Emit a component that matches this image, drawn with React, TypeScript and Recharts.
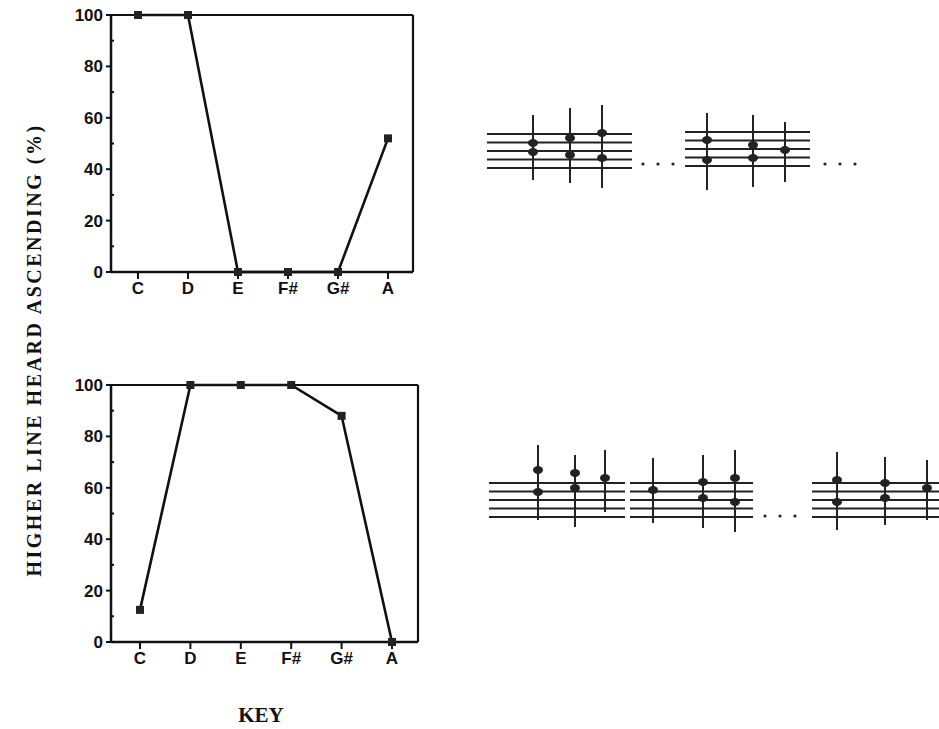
import { LineChart, Line, XAxis, YAxis } from 'recharts'

const keys = ['C', 'D', 'E', 'F#', 'G#', 'A']
const upperValues = [100, 100, 0, 0, 0, 52]
const lowerValues = [12.5, 100, 100, 100, 88, 0]
const yTicks = [0, 10, 20, 30, 40, 50, 60, 70, 80, 90, 100]

const upperData = keys.map((key, i) => ({ key, value: upperValues[i] }))
const lowerData = keys.map((key, i) => ({ key, value: lowerValues[i] }))

const tickFont = { fontFamily: '"Liberation Sans", Arial, sans-serif', fontWeight: 700, fontSize: 17, fill: '#111' }

function YTick(props: any) {
  const { x, y, payload } = props
  const v = payload.value
  const major = v % 20 === 0
  return (
    <g>
      {major ? (
        <>
          <line x1={x + 3} x2={x + 8} y1={y} y2={y} stroke="#111" strokeWidth={2} />
          <text x={x} y={y} dy={6} textAnchor="end" style={tickFont}>
            {v}
          </text>
        </>
      ) : (
        <line x1={x + 8} x2={x + 11} y1={y} y2={y} stroke="#111" strokeWidth={2} />
      )}
    </g>
  )
}

function SquareDot(props: any) {
  const { cx, cy } = props
  if (cx == null || cy == null) return null
  return <rect x={cx - 4} y={cy - 4} width={8} height={8} fill="#222" />
}

interface PanelProps {
  data: { key: string; value: number }[]
  padLeft: number
  padRight: number
  right: number
  top: number
}

function Panel({ data, padLeft, padRight, right, top }: PanelProps) {
  return (
    <div style={{ position: 'absolute', left: 0, top }}>
      <LineChart width={440} height={310} data={data} margin={{ top: 14, right, bottom: 0, left: 0 }}>
        <XAxis
          dataKey="key"
          padding={{ left: padLeft, right: padRight }}
          tick={tickFont}
          tickSize={7}
          tickMargin={3}
          tickLine={{ stroke: '#111', strokeWidth: 2 }}
          axisLine={{ stroke: '#111', strokeWidth: 2.5 }}
          height={38}
          interval={0}
        />
        {/* frame: top and right edges of the plot box */}
        <XAxis
          xAxisId="frame"
          dataKey="key"
          orientation="top"
          height={1}
          padding={{ left: padLeft, right: padRight }}
          tick={false}
          tickLine={false}
          axisLine={{ stroke: '#111', strokeWidth: 2.2 }}
        />
        <YAxis
          domain={[0, 100]}
          ticks={yTicks}
          interval={0}
          width={111}
          tickSize={5}
          tickMargin={3}
          tickLine={false}
          tick={<YTick />}
          axisLine={{ stroke: '#111', strokeWidth: 2.5 }}
        />
        <YAxis
          yAxisId="frame"
          orientation="right"
          domain={[0, 100]}
          width={1}
          tick={false}
          tickLine={false}
          axisLine={{ stroke: '#111', strokeWidth: 2.2 }}
        />
        <Line
          xAxisId="frame"
          yAxisId="frame"
          dataKey="value"
          stroke="none"
          dot={false}
          activeDot={false}
          legendType="none"
          isAnimationActive={false}
        />
        <Line
          dataKey="value"
          type="linear"
          stroke="#111"
          strokeWidth={2.6}
          dot={<SquareDot />}
          activeDot={false}
          isAnimationActive={false}
        />
      </LineChart>
    </div>
  )
}

// music examples beside the plots (illustration only)
type Note = { x: number; heads: number[]; up?: number; down?: number }

const upperStaffNotes: Note[] = [
  { x: 533, heads: [143, 152], up: 115, down: 180 },
  { x: 570, heads: [138, 155], up: 108, down: 183 },
  { x: 602, heads: [133, 158], up: 105, down: 188 },
  { x: 707, heads: [140, 160], up: 113, down: 190 },
  { x: 753, heads: [145, 158], up: 115, down: 187 },
  { x: 785, heads: [150], up: 122, down: 182 },
]

const lowerStaffNotes: Note[] = [
  { x: 538, heads: [470, 492], up: 445, down: 520 },
  { x: 575, heads: [473, 488], up: 455, down: 527 },
  { x: 605, heads: [478], up: 450, down: 512 },
  { x: 653, heads: [490], up: 458, down: 523 },
  { x: 703, heads: [482, 498], up: 455, down: 528 },
  { x: 735, heads: [478, 502], up: 450, down: 532 },
  { x: 837, heads: [480, 502], up: 452, down: 530 },
  { x: 885, heads: [483, 498], up: 457, down: 525 },
  { x: 927, heads: [488], up: 460, down: 520 },
]

function Staff({ x, y, w }: { x: number; y: number; w: number }) {
  return (
    <g>
      {[0, 1, 2, 3, 4].map((i) => (
        <line key={i} x1={x} x2={x + w} y1={y + i * 8.5} y2={y + i * 8.5} stroke="#222" strokeWidth={2} />
      ))}
    </g>
  )
}

function Notes({ notes }: { notes: Note[] }) {
  return (
    <g fill="#222" stroke="#222">
      {notes.map((n, i) => (
        <g key={i}>
          {n.heads.map((h, j) => (
            <ellipse key={j} cx={n.x} cy={h} rx={5} ry={4} stroke="none" />
          ))}
          <line x1={n.x} x2={n.x} y1={n.up ?? n.heads[0]} y2={n.down ?? n.heads[n.heads.length - 1]} strokeWidth={2} />
        </g>
      ))}
    </g>
  )
}

function Dots({ x, y }: { x: number; y: number }) {
  return (
    <g fill="#222">
      {[0, 1, 2].map((i) => (
        <circle key={i} cx={x + i * 15} cy={y} r={1.6} />
      ))}
    </g>
  )
}

export default function App() {
  return (
    <div style={{ position: 'absolute', left: 0, top: 0, width: 939, height: 729, background: '#fff', overflow: 'hidden' }}>
      <Panel data={upperData} padLeft={27} padRight={25} right={26} top={0} />
      <Panel data={lowerData} padLeft={29} padRight={26} right={21} top={370} />
      <svg width={939} height={729} style={{ position: 'absolute', left: 0, top: 0, pointerEvents: 'none' }}>
        <Staff x={487} y={134} w={145} />
        <Dots x={643} y={164} />
        <Staff x={685} y={132} w={125} />
        <Dots x={825} y={164} />
        <Staff x={489} y={483} w={136} />
        <Staff x={630} y={483} w={123} />
        <Dots x={765} y={516} />
        <Staff x={812} y={483} w={127} />
        <Notes notes={upperStaffNotes} />
        <Notes notes={lowerStaffNotes} />
        <text
          transform="translate(36.5 350) rotate(-90)"
          textAnchor="middle"
          dominantBaseline="middle"
          style={{ fontFamily: '"Liberation Serif", "Times New Roman", serif', fontWeight: 700, fontSize: 20, letterSpacing: 2.5, fill: '#111' }}
        >
          HIGHER LINE HEARD ASCENDING (%)
        </text>
        <text
          x={261}
          y={722}
          textAnchor="middle"
          style={{ fontFamily: '"Liberation Serif", "Times New Roman", serif', fontWeight: 700, fontSize: 21, fill: '#111' }}
        >
          KEY
        </text>
      </svg>
    </div>
  )
}
